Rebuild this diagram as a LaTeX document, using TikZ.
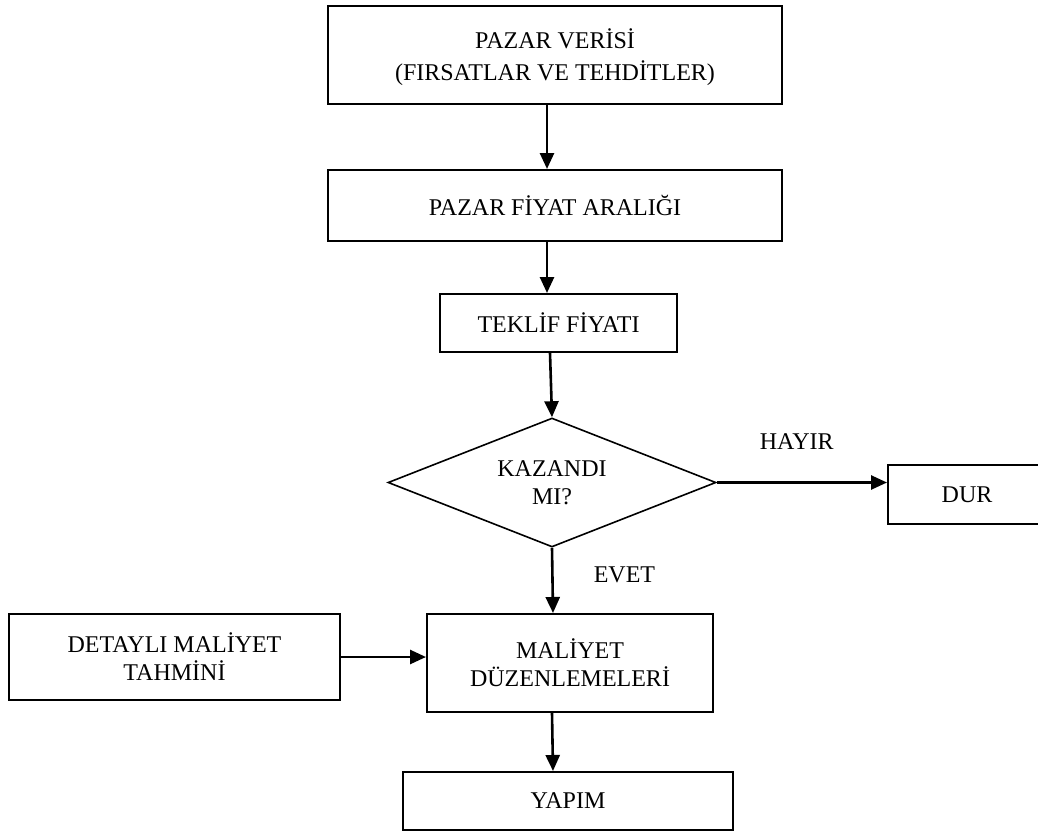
\documentclass[tikz,border=0pt]{standalone}
\usepackage{fontspec}
\setmainfont{Liberation Serif}
\usetikzlibrary{shapes.geometric,arrows.meta}
\begin{document}
\begin{tikzpicture}[x=1pt,y=-1pt,
  txt/.style={font=\fontsize{24}{28}\selectfont, align=center, inner sep=0pt},
  stepbox/.style={txt, draw, line width=2pt, rectangle},
  decision/.style={txt, draw, line width=1.6pt, diamond, aspect=2.5},
  flow/.style={line width=2.6pt, -{Triangle[length=16pt,width=14pt]}},
  lbl/.style={txt}
]
\useasboundingbox (0,0) rectangle (1038,833);
\fill[white] (0,0) rectangle (1038,833);

\node[stepbox, minimum width=454pt, minimum height=98pt, text depth=0pt,
      font=\fontsize{24}{32}\selectfont] (veri) at (555,55)
  {PAZAR VERİSİ\\(FIRSATLAR VE TEHDİTLER)};
\node[stepbox, minimum width=454pt, minimum height=71pt] (aralik) at (555,205.5)
  {PAZAR FİYAT ARALIĞI};
\node[stepbox, minimum width=237pt, minimum height=58pt] (teklif) at (558.5,323)
  {TEKLİF FİYATI};
\node[decision, minimum width=328pt, minimum height=129pt] (kaz) at (552,482.5)
  {KAZANDI\\MI?};
\node[stepbox, minimum width=158pt, minimum height=59pt] (dur) at (967,494.5)
  {DUR};
\node[stepbox, minimum width=286pt, minimum height=98pt] (mal) at (570,663)
  {MALİYET\\DÜZENLEMELERİ};
\node[stepbox, minimum width=331pt, minimum height=86pt] (det) at (174.5,657)
  {DETAYLI MALİYET\\TAHMİNİ};
\node[stepbox, minimum width=330pt, minimum height=58pt] (yapim) at (568,801)
  {YAPIM};

\draw[flow] ([xshift=-8pt]veri.south) -- ([xshift=-8pt]aralik.north);
\draw[flow] ([xshift=-8pt]aralik.south) -- ([xshift=-8pt]aralik.south |- teklif.north);
\draw[flow] ([xshift=-8.5pt]teklif.south) -- (kaz.north);
\draw[flow] (kaz.east) -- (kaz.east -| dur.west)
  node[lbl, pos=0.47, yshift=41pt] (hayir) {HAYIR};
\draw[flow] (kaz.south) -- ([xshift=-17pt]mal.north)
  node[lbl, pos=0.42, xshift=72pt] (evet) {EVET};
\draw[flow] (det.east) -- (det.east -| mal.west);
\draw[flow] ([xshift=-18pt]mal.south) -- ([xshift=-15pt]yapim.north);
\end{tikzpicture}
\end{document}
